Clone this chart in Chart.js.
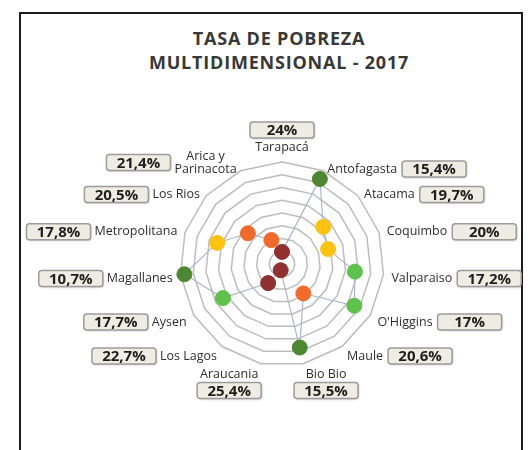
<!DOCTYPE html>
<html lang="es">
<head>
<meta charset="utf-8">
<title>Tasa de pobreza multidimensional 2017</title>
<script src="https://cdn.jsdelivr.net/npm/chart.js@4"></script>
<style>
  html, body { margin: 0; padding: 0; background: #fff; }
  body { width: 528px; height: 450px; position: relative; overflow: hidden; font-family: 'Open Sans', sans-serif; }
  #marco { position: absolute; left: 19px; top: 12px; width: 500px; height: 480px; border: 2px solid #1c1c1c; }
  #titulo { position: absolute; left: 0; width: 558px; top: 26px; text-align: center; font-weight: 700;
            font-size: 18px; letter-spacing: 0.8px; line-height: 24px; color: #383838; }
  #caja { position: absolute; left: 0; top: 0; width: 528px; height: 450px; }
</style>
</head>
<body>
<div id="marco"></div>
<div id="titulo">TASA DE POBREZA<br>MULTIDIMENSIONAL - 2017</div>
<div id="caja"><canvas id="radar"></canvas></div>
<script>
'use strict';

// Regiones en el orden de los ejes (sentido horario desde arriba)
const regiones = ['Tarapacá', 'Antofagasta', 'Atacama', 'Coquimbo', 'Valparaiso', "O'Higgins", 'Maule',
  'Bio Bio', 'Araucania', 'Los Lagos', 'Aysen', 'Magallanes', 'Metropolitana', 'Los Rios', 'Arica y\nParinacota'];
// Tasa de pobreza (%) de cada región
const tasas = [24, 15.4, 19.7, 20, 17.2, 17, 20.6, 15.5, 25.4, 22.7, 17.7, 10.7, 17.8, 20.5, 21.4];
// Posición graficada en el radar (escala 0-16)
const posicion = [1.9, 14.6, 8.7, 7.6, 11.5, 13.1, 5.7, 13.4, 1.0, 3.7, 10.7, 15.4, 10.7, 7.2, 4.1];
const escalaMax = 16;
const escalaPaso = 2;

// color por grupo de tres regiones, de mayor a menor pobreza
const coloresNivel = ['#922f2f', '#f06b2b', '#ffc20e', '#5fc24a', '#4d8731'];
const orden = tasas.map((v, i) => i).sort((a, b) => tasas[b] - tasas[a]);
const colorPunto = tasas.map((v, i) => coloresNivel[Math.floor(orden.indexOf(i) / 3)]);

const fmtTasa = (v) => String(v).replace('.', ',') + '%';

function caja(ctx, x, y, w, h, texto) {
  ctx.save();
  ctx.shadowColor = 'rgba(0,0,0,.25)';
  ctx.shadowBlur = 2;
  ctx.shadowOffsetX = 1;
  ctx.shadowOffsetY = 1;
  ctx.beginPath();
  ctx.roundRect(x, y, w, h, 3);
  ctx.fillStyle = '#efede3';
  ctx.fill();
  ctx.shadowColor = 'transparent';
  ctx.lineWidth = 1.5;
  ctx.strokeStyle = '#9c9c9c';
  ctx.stroke();
  ctx.font = 'bold 15px "Open Sans"';
  ctx.fillStyle = '#1e1e1e';
  ctx.textAlign = 'center';
  ctx.textBaseline = 'middle';
  ctx.fillText(texto, x + w / 2, y + h / 2 + 1);
  ctx.restore();
}

// nombres de región y cajas con la tasa, junto a cada vértice exterior
const etiquetas = {
  id: 'etiquetas',
  afterDraw(chart) {
    const r = chart.scales.r;
    const ctx = chart.ctx;
    const n = chart.data.labels.length;
    ctx.save();
    chart.data.labels.forEach((nombre, i) => {
      const vert = r.getPointPosition(i, r.drawingArea);
      const ang = i * 360 / n;
      const a = ang * Math.PI / 180;
      const sx = Math.sin(a), sy = -Math.cos(a);
      const lineas = nombre.split('\n');
      const altoLinea = 13;
      ctx.font = '12.5px "Open Sans"';
      const ancho = Math.max(...lineas.map((l) => ctx.measureText(l).width));

      let align, x, yUltima;
      if (ang === 0) {
        align = 'center'; x = vert.x; yUltima = vert.y - 15;
      } else {
        align = ang < 180 ? 'left' : 'right';
        x = vert.x + sx * 7 + (ang < 180 ? 1 : -1);
        yUltima = vert.y + (sy > 0 ? 3 + 8 * sy : 2 * sy);
      }
      const yPrimera = yUltima - (lineas.length - 1) * altoLinea;
      const izq = align === 'left' ? x : align === 'right' ? x - ancho : x - ancho / 2;

      // varias líneas: centradas dentro del bloque
      ctx.fillStyle = '#2f2f2f';
      ctx.textBaseline = 'middle';
      if (lineas.length > 1) {
        ctx.textAlign = 'center';
        lineas.forEach((l, k) => ctx.fillText(l, izq + ancho / 2, yPrimera + k * altoLinea));
      } else {
        ctx.textAlign = align;
        ctx.fillText(lineas[0], x, yPrimera);
      }

      const cy = (yPrimera + yUltima) / 2;
      const bw = 64, bh = 16;
      let bx, by;
      if (ang === 0) { bx = x - bw / 2; by = cy - 17 - bh / 2; }
      else if (Math.abs(ang - 180) < 20) { bx = izq + ancho / 2 - bw / 2; by = cy + 16 - bh / 2; }
      else if (ang < 180) { bx = izq + ancho + 5; by = cy - bh / 2; }
      else { bx = izq - 4 - bw; by = cy - bh / 2; }
      caja(ctx, bx, by, bw, bh, fmtTasa(tasas[i]));
    });
    ctx.restore();
  },
};

Chart.defaults.font.family = "'Open Sans', sans-serif";

new Chart(document.getElementById('radar').getContext('2d'), {
  type: 'radar',
  data: {
    labels: regiones,
    datasets: [{
      data: posicion,
      borderColor: '#a9b8cc',
      borderWidth: 1.2,
      fill: false,
      backgroundColor: 'transparent',
      pointRadius: 7.5,
      pointHoverRadius: 7.5,
      pointBackgroundColor: colorPunto,
      pointBorderColor: colorPunto,
      pointBorderWidth: 1,
    }],
  },
  options: {
    responsive: true,
    maintainAspectRatio: false,
    animation: false,
    layout: { padding: { top: 162, bottom: 84, left: 180, right: 144 } },
    plugins: { legend: { display: false }, tooltip: { enabled: false } },
    scales: {
      r: {
        min: 0,
        max: escalaMax,
        ticks: { display: false, stepSize: escalaPaso },
        grid: { color: '#bdbdbd', lineWidth: 1.5 },
        angleLines: { display: false },
        pointLabels: { display: false },
      },
    },
  },
  plugins: [etiquetas],
});
</script>
</body>
</html>
